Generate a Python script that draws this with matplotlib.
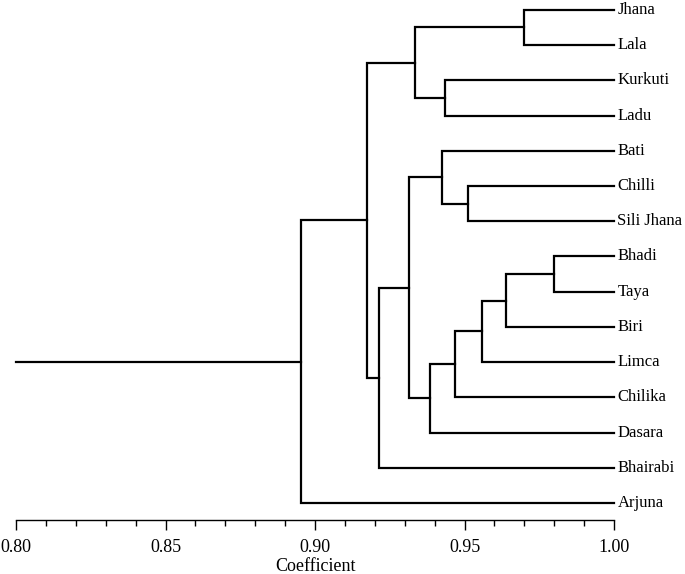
import matplotlib.pyplot as plt
from matplotlib.ticker import MultipleLocator

# Leaf order, top to bottom
leaves = ["Jhana", "Lala", "Kurkuti", "Ladu", "Bati", "Chilli", "Sili Jhana",
          "Bhadi", "Taya", "Biri", "Limca", "Chilika", "Dasara", "Bhairabi", "Arjuna"]

# Merges: (left member, right member, coefficient, new cluster name)
merge_left = ["Jhana", "Kurkuti", "C0", "Chilli", "Bati", "Bhadi", "C5", "C6",
              "C7", "C8", "C4", "C10", "C2", "C12"]
merge_right = ["Lala", "Ladu", "C1", "Sili Jhana", "C3", "Taya", "Biri", "Limca",
               "Chilika", "Dasara", "C9", "Bhairabi", "C11", "Arjuna"]
merge_coef = [0.970, 0.9435, 0.9333, 0.9513, 0.9424, 0.980, 0.9638, 0.956,
              0.9468, 0.9385, 0.9314, 0.9214, 0.9175, 0.8952]
merge_name = ["C%d" % i for i in range(len(merge_coef))]

plt.rcParams['font.family'] = ['Liberation Serif', 'DejaVu Serif']

fig = plt.figure(figsize=(6.85, 5.74), dpi=100)
ax = fig.add_axes([16 / 685, 1 - 520 / 574, 598 / 685, 520 / 574])

xpos = {name: 1.0 for name in leaves}
ypos = {name: i for i, name in enumerate(leaves)}

lw = 1.6
for l, r, c, n in zip(merge_left, merge_right, merge_coef, merge_name):
    yl, yr = ypos[l], ypos[r]
    ax.plot([xpos[l], c, c, xpos[r]], [yl, yl, yr, yr], color='black',
            lw=lw, solid_joinstyle='miter', clip_on=False)
    xpos[n] = c
    ypos[n] = (yl + yr) / 2

# stem of the root
root = merge_name[-1]
ax.plot([0.80, xpos[root]], [ypos[root], ypos[root]], color='black', lw=lw,
        clip_on=False)

for name in leaves:
    ax.annotate(name, xy=(1.0, ypos[name]), xytext=(2.5, 0), textcoords='offset points',
                va='center', ha='left', fontsize=12)

ax.set_xlim(0.80, 1.00)
ax.set_ylim(14.48, -0.28)
ax.xaxis.set_major_locator(MultipleLocator(0.05))
ax.xaxis.set_minor_locator(MultipleLocator(0.01))
ax.xaxis.set_major_formatter(plt.FormatStrFormatter('%.2f'))
ax.tick_params(axis='x', which='major', length=7, width=1, labelsize=13, pad=7)
ax.tick_params(axis='x', which='minor', length=4, width=1)
ax.set_yticks([])
for s in ['top', 'right', 'left']:
    ax.spines[s].set_visible(False)
ax.spines['bottom'].set_linewidth(1)
ax.set_xlabel("Coefficient", fontsize=13, labelpad=1)

fig.savefig("out.png", dpi=100)
